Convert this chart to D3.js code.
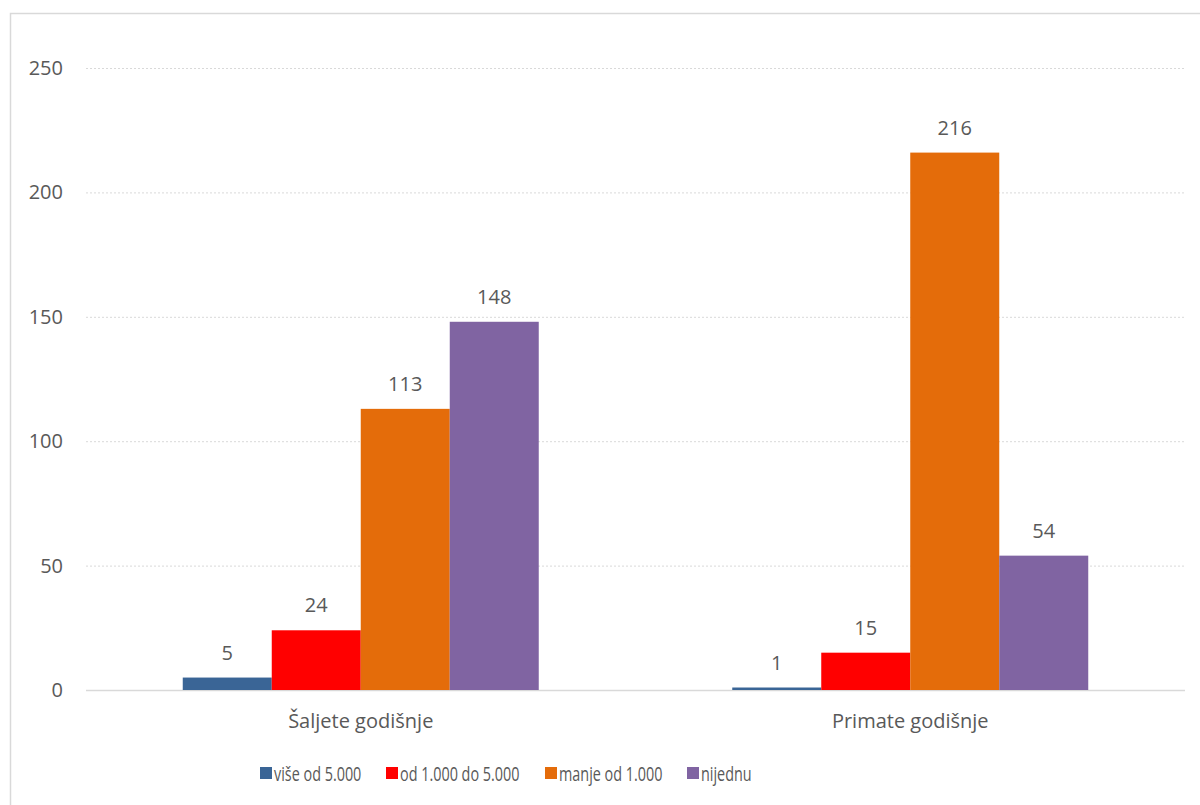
<!DOCTYPE html>
<html><head><meta charset="utf-8">
<script src="https://cdn.jsdelivr.net/npm/d3@7"></script>
<style>body{margin:0;background:#fff}svg text{font-family:"Open Sans","Noto Sans",sans-serif;fill:#595959}</style>
</head><body><svg id="c" width="1200" height="805"></svg>
<script>
const categories = ["Šaljete godišnje", "Primate godišnje"];
const seriesNames = ["više od 5.000", "od 1.000 do 5.000", "manje od 1.000", "nijednu"];
const seriesColors = ["#3a6596", "#ff0000", "#e46c0a", "#8064a2"];
const values = [[5, 1], [24, 15], [113, 216], [148, 54]];
const yTicks = [0, 50, 100, 150, 200, 250];

(function(){
const svg = d3.select("#c");
svg.append("rect").attr("x",10.5).attr("y",13.5).attr("width",1200).attr("height",800)
  .attr("fill","#fff").attr("stroke","#d9d9d9").attr("stroke-width",1.5);

const pL=86, pR=1185, pT=68, pB=690;
const y = d3.scaleLinear().domain([0,250]).range([pB, pT]);
const x0 = d3.scaleBand().domain(categories).range([pL,pR]);
const barW = 89;
const x1 = d3.scaleBand().domain(seriesNames).range([0, barW*4]);

svg.append("g").selectAll("line").data(yTicks.filter(d=>d>0)).join("line")
  .attr("x1",pL).attr("x2",pR).attr("y1",d=>y(d)+0.5).attr("y2",d=>y(d)+0.5)
  .attr("stroke","#d9d9d9").attr("stroke-dasharray","2,2");
svg.append("line").attr("x1",pL).attr("x2",pR).attr("y1",pB+0.5).attr("y2",pB+0.5)
  .attr("stroke","#d9d9d9").attr("stroke-width",1.5);

svg.append("g").selectAll("text").data(yTicks).join("text")
  .attr("x",63).attr("y",d=>y(d)).attr("dy","0.35em").attr("text-anchor","end")
  .attr("font-size",20).text(d=>d);

const g = svg.append("g");
seriesNames.forEach((s,i)=>{
  categories.forEach((c,j)=>{
    const bx = x0(c) + (x0.bandwidth()-barW*4)/2 + x1(s);
    const v = values[i][j];
    g.append("rect").attr("x",bx).attr("y",y(v)).attr("width",x1.bandwidth())
      .attr("height",pB-y(v)).attr("fill",seriesColors[i]);
    g.append("text").attr("x",bx+x1.bandwidth()/2).attr("y",y(v)-18)
      .attr("text-anchor","middle").attr("font-size",20).text(v);
  });
});

svg.append("g").selectAll("text").data(categories).join("text")
  .attr("x",d=>x0(d)+x0.bandwidth()/2).attr("y",728).attr("text-anchor","middle")
  .attr("font-size",20).text(d=>d);

const legX = [260, 386, 545, 687];
const lg = svg.append("g");
seriesNames.forEach((s,i)=>{
  lg.append("rect").attr("x",legX[i]).attr("y",767).attr("width",12).attr("height",12).attr("fill",seriesColors[i]);
  lg.append("text").attr("transform",`translate(${legX[i]+14},781) scale(0.72,1)`)
    .attr("font-size",20).text(s);
});
})();
</script></body></html>
